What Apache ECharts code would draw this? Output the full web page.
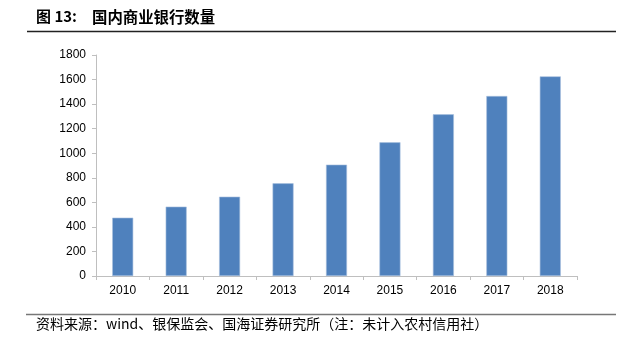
<!DOCTYPE html>
<html>
<head>
<meta charset="utf-8">
<script src="https://cdn.jsdelivr.net/npm/echarts@6/dist/echarts.min.js"></script>
<style>
html,body{margin:0;padding:0;background:#fff;}
#c{width:630px;height:342px;}
</style>
</head>
<body>
<div id="c"></div>
<script>
var categories = ['2010','2011','2012','2013','2014','2015','2016','2017','2018'];
var bankCounts = [475, 565, 646, 755, 907, 1089, 1317, 1466, 1626];
var yTicks = [0, 200, 400, 600, 800, 1000, 1200, 1400, 1600, 1800];
var titlePrefix = '图 13:';
var titleText = '国内商业银行数量';
var sourceText = '资料来源：wind、银保监会、国海证券研究所（注：未计入农村信用社）';

var chart = echarts.init(document.getElementById('c'), null, {renderer: 'canvas'});
chart.setOption({
  animation: false,
  backgroundColor: '#fff',
  grid: {left: 96, right: 53, top: 55, bottom: 66},
  xAxis: {
    type: 'category',
    data: categories,
    axisLine: {lineStyle: {color: '#bfbfbf', width: 1}},
    axisTick: {show: true, alignWithLabel: false, length: 4, lineStyle: {color: '#bfbfbf'}},
    axisLabel: {color: '#000', fontSize: 12, fontFamily: 'Liberation Sans, Arial', margin: 9}
  },
  yAxis: {
    type: 'value',
    min: yTicks[0],
    max: yTicks[yTicks.length - 1],
    interval: yTicks[1] - yTicks[0],
    axisLine: {show: true, lineStyle: {color: '#bfbfbf', width: 1}},
    axisTick: {show: true, length: 4, lineStyle: {color: '#bfbfbf'}},
    splitLine: {show: false},
    axisLabel: {color: '#000', fontSize: 12, fontFamily: 'Liberation Sans, Arial', margin: 10,
      formatter: function (v) { return String(v); }}
  },
  series: [{
    type: 'bar',
    data: bankCounts,
    barWidth: 21,
    itemStyle: {color: '#4F81BD', borderColor: '#A7BFDE', borderWidth: 0.6}
  }],
  graphic: [
    {type: 'text', left: 36, top: 9, style: {text: titlePrefix, fill: '#000', font: 'bold 15px "Noto Sans CJK SC", sans-serif'}},
    {type: 'text', left: 92, top: 9, style: {text: titleText, fill: '#000', font: 'bold 15.4px "Noto Sans CJK SC", sans-serif'}},
    {type: 'line', shape: {x1: 27, y1: 31.5, x2: 616, y2: 31.5}, style: {stroke: '#222', lineWidth: 1.5}},
    {type: 'line', shape: {x1: 26, y1: 314.5, x2: 616, y2: 314.5}, style: {stroke: '#777', lineWidth: 1.5}},
    {type: 'text', left: 36, top: 317, style: {text: sourceText, fill: '#000', font: '14px "Noto Sans CJK SC", sans-serif'}}
  ]
});
</script>
</body>
</html>
